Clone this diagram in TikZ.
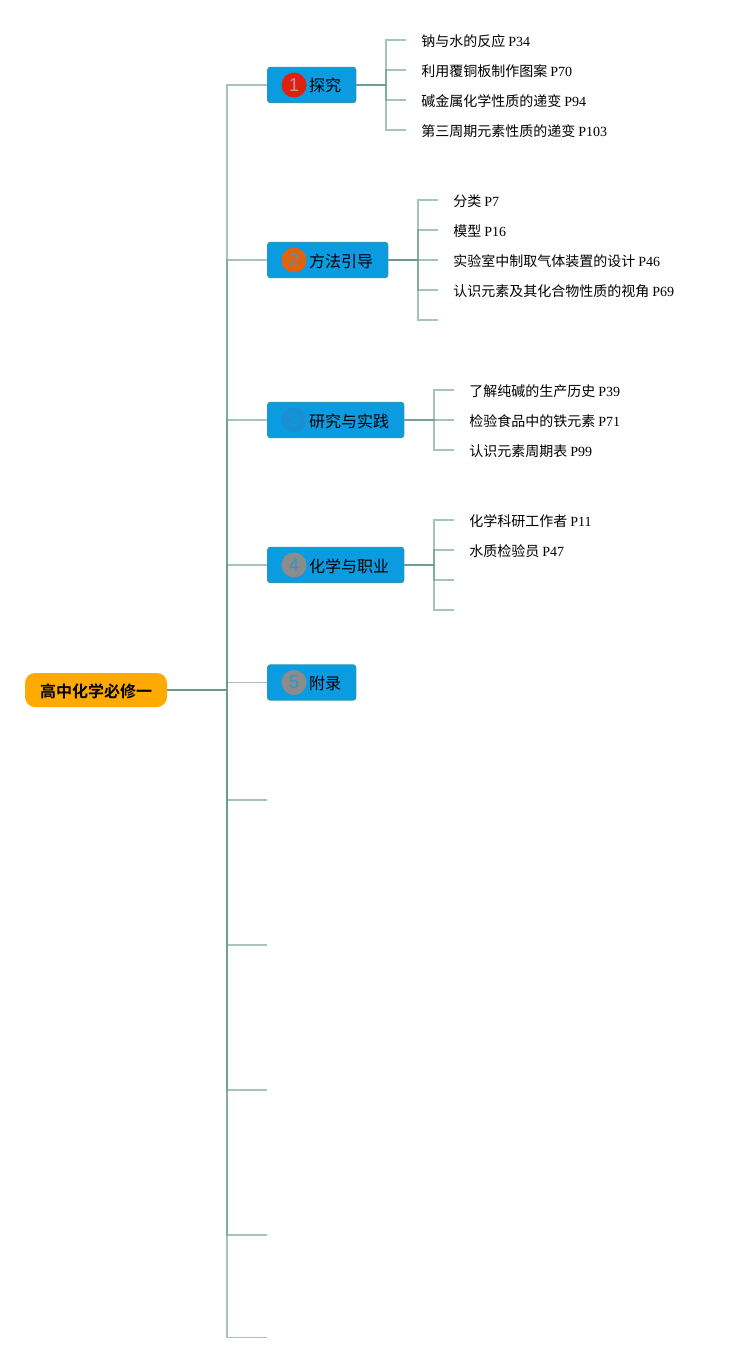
\documentclass[tikz,border=0pt]{standalone}
\usepackage{xcolor}
\usepackage{fontspec}
\setmainfont{Noto Sans CJK SC}[BoldFont={Noto Sans CJK SC Bold}]
\newfontfamily\pagefont{Liberation Serif}
\newfontfamily\badgefont{Liberation Sans}
\usepackage{tikz}
\usetikzlibrary{positioning, calc}
\definecolor{linkgreen}{HTML}{689A8A}
\definecolor{topicblue}{HTML}{0A9BE0}
\definecolor{topicedge}{HTML}{2A9AB0}
\definecolor{rootorange}{HTML}{FFAA00}
\definecolor{badgered}{HTML}{E0200F}
\definecolor{badgeorange}{HTML}{E0640F}
\definecolor{badgeblue}{HTML}{1A90D2}
\definecolor{badgegray}{HTML}{8C8C8C}
\definecolor{badgepale}{HTML}{B89A98}
\newcommand{\pg}[1]{ {\pagefont #1}}
\newcommand{\badgegap}{\hspace*{20.25pt}}

\begin{document}
\begin{tikzpicture}[
    x=0.75pt,y=-0.75pt,
    lnk/.style={draw=linkgreen,draw opacity=0.58,line width=1.3pt},
    root/.style={fill=rootorange,rounded corners=7.5pt,minimum width=106.5pt,minimum height=25.5pt,inner sep=0pt,text height=12.1pt,text depth=1.6pt,font=\fontsize{12}{14}\selectfont\bfseries,text=black},
    topic/.style={draw=topicedge,line width=0.75pt,fill=topicblue,rounded corners=2.2pt,minimum height=26.6pt,minimum width=0pt,inner xsep=11pt,inner ysep=0pt,text height=12.1pt,text depth=1.6pt,anchor=west,font=\fontsize{12}{14}\selectfont,text=black},
    badge/.style={circle,minimum size=18.75pt,inner sep=0pt,font=\fontsize{14}{16}\selectfont\badgefont},
    leaf/.style={anchor=west,inner xsep=11.25pt,inner ysep=0pt,text height=11pt,text depth=1.6pt,font=\fontsize{10.5}{12}\selectfont,text=black}
  ]
    \useasboundingbox (0,0) rectangle (735,1363);

    \node[root] (root) at (96,690) {高中化学必修一};
    \coordinate (trunk) at (227,690);

    \node[topic] (t1) at (267,85) {\badgegap 探究};
    \node[topic] (t2) at (267,260) {\badgegap 方法引导};
    \node[topic] (t3) at (267,420) {\badgegap 研究与实践};
    \node[topic] (t4) at (267,565) {\badgegap 化学与职业};
    \node[topic] (t5) at (267,682.5) {\badgegap 附录};

    \node[badge,fill=badgered,text=badgepale] (b1) at ($(t1.west)+(27,0)$) {1};
    \node[badge,fill=badgeorange,text=topicblue!45!badgegray] (b2) at ($(t2.west)+(27,0)$) {2};
    \node[badge,fill=badgeblue,text=topicblue] (b3) at ($(t3.west)+(27,0)$) {3};
    \node[badge,fill=badgegray,text=topicblue!70!badgegray] (b4) at ($(t4.west)+(27,0)$) {4};
    \node[badge,fill=badgegray,text=topicblue!70!badgegray] (b5) at ($(t5.west)+(27,0)$) {5};

    \coordinate (e6) at (267,800);
    \coordinate (e7) at (267,945);
    \coordinate (e8) at (267,1090);
    \coordinate (e9) at (267,1235);
    \coordinate (e10) at (267,1337.5);

    \node[leaf] (l11) at (406,40) {钠与水的反应\pg{P34}};
    \node[leaf] (l12) at (406,70) {利用覆铜板制作图案\pg{P70}};
    \node[leaf] (l13) at (406,100) {碱金属化学性质的递变\pg{P94}};
    \node[leaf] (l14) at (406,130) {第三周期元素性质的递变\pg{P103}};

    \node[leaf] (l21) at (438,200) {分类\pg{P7}};
    \node[leaf] (l22) at (438,230) {模型\pg{P16}};
    \node[leaf] (l23) at (438,260) {实验室中制取气体装置的设计\pg{P46}};
    \node[leaf] (l24) at (438,290) {认识元素及其化合物性质的视角\pg{P69}};
    \coordinate (l25) at (438,320);

    \node[leaf] (l31) at (454,390) {了解纯碱的生产历史\pg{P39}};
    \node[leaf] (l32) at (454,420) {检验食品中的铁元素\pg{P71}};
    \node[leaf] (l33) at (454,450) {认识元素周期表\pg{P99}};

    \node[leaf] (l41) at (454,520) {化学科研工作者\pg{P11}};
    \node[leaf] (l42) at (454,550) {水质检验员\pg{P47}};
    \coordinate (l43) at (454,580);
    \coordinate (l44) at (454,610);

    % trunk
    \draw[lnk] (root.east) -- (trunk) |- (t1.west);
    \draw[lnk] (root.east) -- (trunk) |- (t2.west);
    \draw[lnk] (root.east) -- (trunk) |- (t3.west);
    \draw[lnk] (root.east) -- (trunk) |- (t4.west);
    \draw[lnk] (root.east) -- (trunk) |- (t5.west);
    \draw[lnk] (root.east) -- (trunk) |- (e6);
    \draw[lnk] (root.east) -- (trunk) |- (e7);
    \draw[lnk] (root.east) -- (trunk) |- (e8);
    \draw[lnk] (root.east) -- (trunk) |- (e9);
    \draw[lnk] (root.east) -- (trunk) |- (e10);

    % leaves
    \draw[lnk] (t1.east) -- ++(30,0) |- (l11.west);
    \draw[lnk] (t1.east) -- ++(30,0) |- (l12.west);
    \draw[lnk] (t1.east) -- ++(30,0) |- (l13.west);
    \draw[lnk] (t1.east) -- ++(30,0) |- (l14.west);

    \draw[lnk] (t2.east) -- ++(30,0) |- (l21.west);
    \draw[lnk] (t2.east) -- ++(30,0) |- (l22.west);
    \draw[lnk] (t2.east) -- ++(30,0) |- (l23.west);
    \draw[lnk] (t2.east) -- ++(30,0) |- (l24.west);
    \draw[lnk] (t2.east) -- ++(30,0) |- (l25);

    \draw[lnk] (t3.east) -- ++(30,0) |- (l31.west);
    \draw[lnk] (t3.east) -- ++(30,0) |- (l32.west);
    \draw[lnk] (t3.east) -- ++(30,0) |- (l33.west);

    \draw[lnk] (t4.east) -- ++(30,0) |- (l41.west);
    \draw[lnk] (t4.east) -- ++(30,0) |- (l42.west);
    \draw[lnk] (t4.east) -- ++(30,0) |- (l43);
    \draw[lnk] (t4.east) -- ++(30,0) |- (l44);
  \end{tikzpicture}
\end{document}
